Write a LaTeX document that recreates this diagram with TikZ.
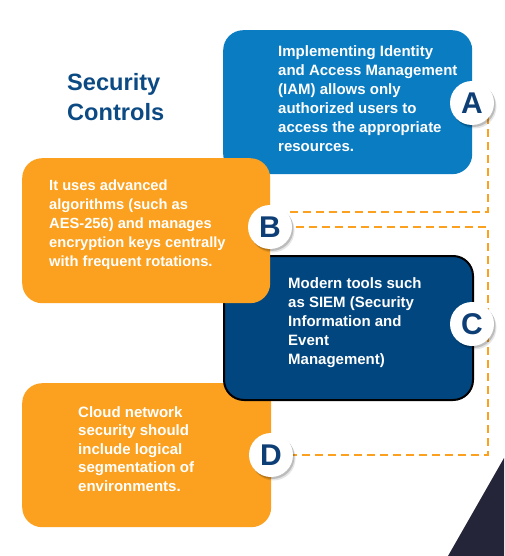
\documentclass[tikz,border=0pt]{standalone}
\usepackage{fontspec}
\setmainfont{Liberation Sans}
\usetikzlibrary{calc}
\pgfdeclarelayer{bg}
\pgfsetlayers{bg,main}
\definecolor{boxblue}{HTML}{0A7CC1}
\definecolor{boxorange}{HTML}{FBA11F}
\definecolor{boxnavy}{HTML}{02467F}
\definecolor{titleblue}{HTML}{0C4A84}
\definecolor{letterblue}{HTML}{0D3E76}
\definecolor{darkcorner}{HTML}{25253A}
\begin{document}
\begin{tikzpicture}[x=1pt,y=-1pt,
  card/.style={rectangle, rounded corners=20pt, anchor=north west, inner sep=0pt},
  body/.style={anchor=north west, inner sep=0pt, align=left, text=white, font=\fontsize{15}{19}\selectfont\bfseries},
  badge/.style={circle, fill=white, minimum size=44pt, inner sep=0pt, text=letterblue,
    font=\fontsize{30}{30}\selectfont\bfseries,
    preaction={fill=black, opacity=0.10, transform canvas={shift={(2.5pt,-3.5pt)}}},
    preaction={fill=black, opacity=0.18, transform canvas={shift={(1.5pt,-2pt)}}}},
  link/.style={draw=boxorange, line width=2.7pt, dash pattern=on 8pt off 5pt},
]
\useasboundingbox (0,0) rectangle (504,556);
\fill[darkcorner] (448,556) -- (504,458) -- (504,556) -- cycle;

\node[anchor=north west, inner sep=0pt, align=left, text=titleblue,
  font=\fontsize{23.6}{30}\selectfont\bfseries] (title) at (67,73) {Security\\Controls};

\node[card, fill=boxblue, minimum width=249pt, minimum height=144pt] (boxA) at (223,30) {};
\node[card, fill=boxorange, minimum width=249pt, minimum height=144pt] (boxD) at (22,383) {};
\node[card, fill=boxnavy, draw=black, line width=2pt, minimum width=249pt, minimum height=144pt] (boxC) at (223,255) {};
\node[card, fill=boxorange, minimum width=248pt, minimum height=145pt] (boxB) at (22,158) {};

\node[body] (textA) at (278,45) {Implementing Identity\\and Access Management\\(IAM) allows only\\authorized users to\\access the appropriate\\resources.};
\node[body, font=\fontsize{14.7}{19}\selectfont\bfseries] (textB) at (49,180) {It uses advanced\\algorithms (such as\\AES-256) and manages\\encryption keys centrally\\with frequent rotations.};
\node[body] (textC) at (288,277) {Modern tools such\\as SIEM (Security\\Information and\\Event\\Management)};
\node[body, font=\fontsize{15}{18.5}\selectfont\bfseries] (textD) at (78,406) {Cloud network\\security should\\include logical\\segmentation of\\environments.};

\node[badge] (cA) at (472,103) {A};
\node[badge] (cB) at (270,227) {B};
\node[badge] (cC) at (472,324) {C};
\node[badge] (cD) at (271,455) {D};

\begin{pgfonlayer}{bg}
\draw[link] ($(cA.center)+(16,0)$) |- ($(cB.center)+(0,-15)$);
\draw[link] (cB.center) -| ($(cC.center)+(16,0)$) |- (cD.center);
\end{pgfonlayer}
\end{tikzpicture}
\end{document}
